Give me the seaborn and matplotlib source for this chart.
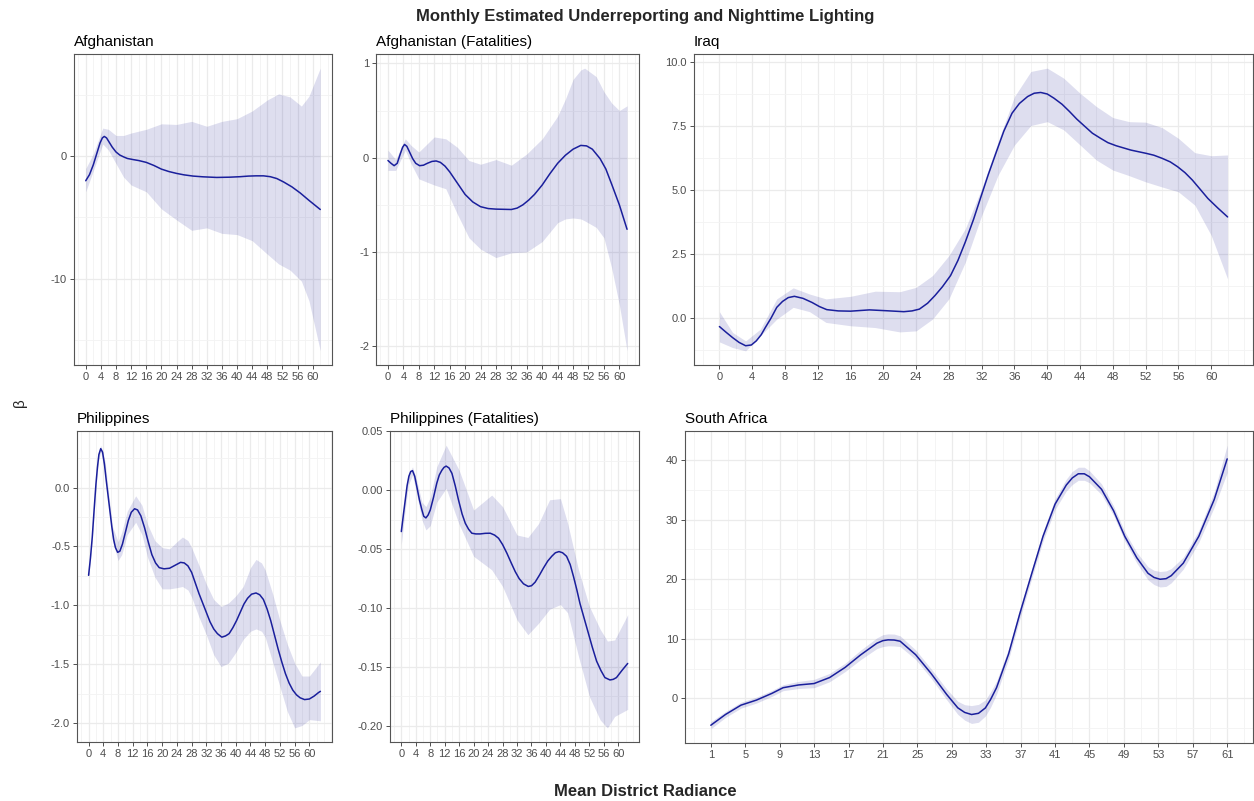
import matplotlib
matplotlib.use('Agg')
import matplotlib.pyplot as plt
from matplotlib.ticker import AutoMinorLocator, FormatStrFormatter
import seaborn as sns

# ---- data ----
afg_x = [0, 1, 2, 3, 3.8, 4.4, 4.9, 5.5, 6.2, 7, 8, 9, 10, 11, 12.5, 14, 16, 18, 20, 22, 24, 26, 28.4, 31, 34.6,
         38, 40.8, 43, 45, 47, 48.8, 50.5, 52.3, 54.5, 56.7, 59, 62]
afg_y = [-2.0, -1.5, -0.7, 0.3, 1.1, 1.5, 1.62, 1.5, 1.15, 0.75, 0.35, 0.1, -0.05, -0.18, -0.27, -0.35, -0.5, -0.75,
         -1.05, -1.25, -1.4, -1.52, -1.62, -1.68, -1.73, -1.71, -1.67, -1.62, -1.6, -1.6, -1.67, -1.82, -2.1, -2.5,
         -3.0, -3.6, -4.35]
afg_bx = [0, 2, 4.5, 6, 8, 10, 12, 16, 20, 24, 28, 32, 36, 40, 44, 48, 51, 54, 57, 59, 62]
afg_hi = [-1.0, 0.2, 2.3, 2.2, 1.7, 1.7, 1.9, 2.2, 2.65, 2.6, 2.85, 2.45, 2.85, 3.07, 3.7, 4.6, 5.1, 4.85, 4.1, 4.9, 7.2]
afg_lo = [-2.9, -1.2, 1.0, 0.5, -0.6, -1.7, -2.35, -2.9, -4.3, -5.2, -6.05, -5.85, -6.3, -6.4, -6.9, -8.0, -8.8, -9.3,
          -10.2, -11.8, -15.9]

afgf_x = [0, 0.8, 1.6, 2.4, 3.2, 3.8, 4.3, 4.9, 5.6, 6.4, 7.2, 8.2, 9.2, 10.2, 11.4, 12.5, 13.6, 14.8, 16, 18, 20,
          22, 24, 26, 28, 30, 32, 33.5, 35, 36.5, 38, 40, 42, 44, 46, 48, 50, 51.5, 53, 55, 56.5, 58, 60, 62]
afgf_y = [-0.03, -0.06, -0.085, -0.06, 0.04, 0.11, 0.14, 0.12, 0.06, -0.01, -0.06, -0.085, -0.08, -0.06, -0.04,
          -0.035, -0.05, -0.09, -0.15, -0.27, -0.39, -0.47, -0.52, -0.54, -0.546, -0.548, -0.55, -0.535, -0.50,
          -0.45, -0.39, -0.29, -0.17, -0.06, 0.025, 0.09, 0.13, 0.125, 0.09, -0.01, -0.12, -0.28, -0.5, -0.76]
afgf_bx = [0, 2, 4.5, 6, 8, 12, 15, 18, 21, 24, 28, 32, 36, 40, 44, 46, 48, 50, 51, 54, 56, 58, 60, 62]
afgf_hi = [0.08, -0.02, 0.2, 0.13, 0.06, 0.22, 0.2, 0.11, -0.03, -0.07, -0.02, -0.08, 0.04, 0.2, 0.44, 0.62, 0.83,
           0.93, 0.95, 0.86, 0.7, 0.58, 0.5, 0.55]
afgf_lo = [-0.135, -0.135, 0.08, -0.065, -0.225, -0.29, -0.33, -0.6, -0.85, -0.97, -1.06, -1.01, -1.0, -0.89, -0.69,
           -0.65, -0.64, -0.65, -0.67, -0.74, -0.85, -1.17, -1.56, -2.05]

irq_x = [0, 0.8, 1.6, 2.4, 3.2, 3.9, 4.5, 5.1, 5.6, 6.3, 7, 7.7, 8.4, 9.15, 10.2, 11.3, 12.2, 13.1, 14.5, 16, 18.3,
         20.2, 22.5, 23.5, 24.4, 25.4, 26.3, 27.2, 28.2, 29.1, 30, 31, 31.9, 32.8, 33.8, 34.7, 35.7, 36.6, 37.6, 38.4,
         39.2, 40, 40.8, 41.8, 42.7, 43.6, 44.6, 45.5, 46.5, 47.4, 48.4, 50.2, 52.1, 53, 54, 55, 55.9, 56.8, 57.7,
         58.6, 59.6, 60.8, 62]
irq_y = [-0.33, -0.55, -0.76, -0.95, -1.08, -1.05, -0.89, -0.65, -0.37, 0.0, 0.42, 0.65, 0.8, 0.85, 0.77, 0.61, 0.45,
         0.33, 0.28, 0.27, 0.32, 0.29, 0.25, 0.28, 0.35, 0.58, 0.88, 1.22, 1.66, 2.25, 2.97, 3.85, 4.73, 5.6, 6.5,
         7.3, 8.0, 8.38, 8.65, 8.78, 8.81, 8.75, 8.59, 8.35, 8.07, 7.77, 7.48, 7.22, 7.02, 6.85, 6.73, 6.56, 6.43,
         6.36, 6.24, 6.1, 5.91, 5.68, 5.39, 5.05, 4.67, 4.3, 3.95]
irq_bx = [0, 1.6, 3.2, 5, 7, 9, 11, 13, 16, 19, 22, 24, 26, 28, 30, 32, 34, 36, 38, 40, 42, 44, 46, 48, 50, 52, 54,
          56, 58, 60, 62]
irq_hi = [0.25, -0.56, -0.89, -0.43, 0.75, 1.18, 0.94, 0.75, 0.85, 1.05, 1.03, 1.2, 1.66, 2.44, 3.49, 5.06, 6.89,
          8.65, 9.63, 9.76, 9.37, 8.78, 8.26, 7.83, 7.67, 7.65, 7.44, 7.02, 6.46, 6.34, 6.37]
irq_lo = [-0.93, -1.15, -1.28, -0.69, -0.04, 0.42, 0.25, -0.17, -0.3, -0.37, -0.54, -0.5, -0.04, 0.75, 2.18, 4.01,
          5.58, 6.76, 7.52, 7.67, 7.35, 6.76, 6.17, 5.78, 5.56, 5.32, 5.12, 4.93, 4.41, 3.23, 1.53]

phl_x = [0, 0.5, 1, 1.5, 2, 2.4, 2.8, 3.3, 3.8, 4.3, 4.8, 5.3, 5.8, 6.3, 6.8, 7.3, 7.9, 8.5, 9.2, 10, 10.8, 11.6,
         12.5, 13.3, 14.2, 15.2, 16.2, 17.2, 18.2, 19.2, 20.5, 22, 23.5, 25, 26, 27, 28, 29, 30, 31, 32, 33, 34, 35,
         36.2, 37.2, 38.2, 39.2, 40.2, 41.2, 42.2, 43.2, 44.3, 45.5, 46.5, 47.5, 48.5, 49.5, 50.5, 51.5, 52.5, 53.5,
         54.5, 55.5, 56.5, 57.5, 58.7, 60, 61.3, 62.5, 63]
phl_y = [-0.745, -0.6, -0.42, -0.19, 0.03, 0.17, 0.28, 0.33, 0.3, 0.2, 0.06, -0.07, -0.2, -0.33, -0.44, -0.51, -0.55,
         -0.54, -0.48, -0.38, -0.28, -0.21, -0.18, -0.19, -0.24, -0.34, -0.46, -0.57, -0.64, -0.68, -0.69, -0.685,
         -0.66, -0.635, -0.64, -0.665, -0.72, -0.81, -0.9, -0.98, -1.06, -1.14, -1.2, -1.24, -1.27, -1.26, -1.24,
         -1.19, -1.13, -1.06, -0.99, -0.94, -0.905, -0.895, -0.91, -0.95, -1.03, -1.13, -1.25, -1.37, -1.48, -1.58,
         -1.66, -1.72, -1.76, -1.785, -1.8, -1.795, -1.77, -1.74, -1.73]
phl_bx = [0, 1, 2, 2.7, 3.3, 4.5, 5.5, 6.5, 8, 9, 10.5, 12.8, 14.5, 16, 18, 20, 22, 24, 25.5, 27, 28, 30, 32, 34, 36,
          38, 40, 42, 44, 45.5, 47, 48, 50, 52, 54, 56, 58, 60, 63]
phl_hi = [-0.72, -0.39, 0.07, 0.3, 0.36, 0.22, -0.06, -0.33, -0.46, -0.38, -0.2, -0.07, -0.15, -0.31, -0.45, -0.51,
          -0.52, -0.46, -0.42, -0.45, -0.51, -0.66, -0.82, -0.95, -1.01, -0.98, -0.92, -0.84, -0.68, -0.61, -0.64,
          -0.7, -0.9, -1.13, -1.33, -1.49, -1.6, -1.6, -1.48]
phl_lo = [-0.77, -0.45, -0.01, 0.23, 0.3, 0.12, -0.16, -0.45, -0.62, -0.57, -0.4, -0.295, -0.4, -0.59, -0.76, -0.86,
          -0.86, -0.85, -0.84, -0.87, -0.93, -1.1, -1.25, -1.42, -1.52, -1.49, -1.4, -1.29, -1.22, -1.2, -1.22,
          -1.27, -1.48, -1.69, -1.9, -2.04, -2.02, -1.97, -1.98]

phlf_x = [0, 0.6, 1.1, 1.6, 2.1, 2.6, 3.1, 3.7, 4.3, 5, 5.7, 6.2, 6.8, 7.4, 8, 8.9, 9.8, 10.5, 11.2, 11.8, 12.4,
          13.2, 14, 14.9, 15.8, 16.8, 17.7, 18.6, 19.5, 20.6, 21.8, 23.2, 24.6, 25.8, 26.9, 28, 29.2, 30.3, 31.5,
          32.6, 33.8, 35.1, 36, 37, 38.2, 39.3, 40.5, 41.6, 42.6, 43.6, 44.6, 45.7, 46.7, 47.6, 48.5, 49.4, 50.5,
          51.7, 52.8, 54, 55.2, 56.3, 57.7, 58.6, 59.5, 61, 62.6]
phlf_y = [-0.035, -0.02, -0.008, 0.004, 0.012, 0.016, 0.0167, 0.012, 0.003, -0.008, -0.0167, -0.022, -0.0234,
          -0.021, -0.0167, -0.006, 0.006, 0.013, 0.017, 0.0195, 0.0206, 0.019, 0.0144, 0.004, -0.008, -0.02, -0.028,
          -0.033, -0.0364, -0.037, -0.037, -0.0365, -0.0364, -0.038, -0.0407, -0.046, -0.0534, -0.061, -0.069,
          -0.075, -0.0794, -0.0816, -0.081, -0.078, -0.072, -0.066, -0.06, -0.056, -0.053, -0.052, -0.053, -0.056,
          -0.063, -0.073, -0.084, -0.096, -0.108, -0.121, -0.133, -0.145, -0.153, -0.159, -0.161, -0.1605, -0.159,
          -0.153, -0.147]
phlf_bx = [0, 1.1, 2, 3.1, 4.3, 5.7, 6.8, 8, 9.8, 12.4, 16, 20, 25, 28, 32, 35, 38, 41, 44, 46, 49, 52, 55, 57, 59,
           62.6]
phlf_hi = [-0.030, -0.002, 0.014, 0.02, 0.008, -0.010, -0.0138, -0.006, 0.02, 0.0384, 0.017, -0.0167, -0.004,
           -0.0138, -0.0379, -0.04, -0.028, -0.008, -0.007, -0.028, -0.0675, -0.0986, -0.118, -0.128, -0.127, -0.1056]
phlf_lo = [-0.046, -0.016, 0.005, 0.013, -0.004, -0.025, -0.0336, -0.03, -0.01, 0.0017, -0.029, -0.056, -0.0675,
           -0.0816, -0.11, -0.1226, -0.1127, -0.101, -0.097, -0.104, -0.141, -0.175, -0.195, -0.2017, -0.192, -0.186]

zaf_x = [1, 2.7, 4.5, 6.3, 8.1, 9.4, 11.2, 13, 14.8, 16.6, 18.4, 20.3, 21, 21.6, 22.3, 23, 24.8, 26.6, 28.4, 29.7,
         30.5, 31.3, 32.1, 32.9, 33.5, 34.2, 35.6, 36.9, 38.3, 39.6, 41, 42.3, 43, 43.7, 44.4, 45, 46.4, 47.8, 49.1,
         50.5, 51.8, 52.5, 53.2, 53.9, 54.5, 55.9, 57.7, 59.5, 61]
zaf_y = [-4.5, -2.7, -1.13, -0.28, 0.85, 1.8, 2.26, 2.5, 3.5, 5.2, 7.3, 9.27, 9.7, 9.83, 9.8, 9.6, 7.34, 4.18, 0.68,
         -1.58, -2.35, -2.7, -2.5, -1.6, -0.2, 1.8, 7.46, 14.2, 21, 27.2, 32.6, 35.8, 37.0, 37.7, 37.7, 37.2, 35.1,
         31.5, 27.2, 23.6, 21, 20.3, 20, 20.1, 20.6, 22.7, 27.2, 33.4, 40.2]
zaf_hi = [-3.9, -2.2, -0.63, 0.22, 1.35, 2.3, 2.86, 3.2, 4.2, 5.9, 8.1, 10.17, 10.7, 10.83, 10.8, 10.5, 8.14, 4.98,
          1.58, -0.48, -1.05, -1.2, -1.0, -0.25, 1.1, 2.9, 8.36, 15.1, 21.8, 28.0, 33.5, 36.8, 38.1, 38.8, 38.8, 38.2,
          36.0, 32.3, 28.0, 24.5, 22.1, 21.5, 21.3, 21.4, 21.8, 23.7, 28.2, 34.7, 42.5]
zaf_lo = [-5.1, -3.2, -1.63, -0.78, 0.35, 1.3, 1.66, 1.8, 2.8, 4.5, 6.5, 8.37, 8.7, 8.83, 8.8, 8.7, 6.54, 3.38,
          -0.22, -2.68, -3.65, -4.2, -4.0, -2.95, -1.5, 0.7, 6.56, 13.3, 20.2, 26.4, 31.7, 34.8, 35.9, 36.6, 36.6,
          36.2, 34.2, 30.7, 26.4, 22.7, 19.9, 19.1, 18.7, 18.8, 19.4, 21.7, 26.2, 32.1, 37.9]

xt_0 = list(range(0, 61, 4))
xt_1 = list(range(1, 62, 4))
afg_yt = [-10, 0]
afgf_yt = [-2, -1, 0, 1]
irq_yt = [0, 2.5, 5, 7.5, 10]
phl_yt = [-2.0, -1.5, -1.0, -0.5, 0.0]
phlf_yt = [-0.20, -0.15, -0.10, -0.05, 0.00, 0.05]
zaf_yt = [0, 10, 20, 30, 40]

sns.set_theme(style="white")
plt.rcParams['font.family'] = ['Liberation Sans', 'DejaVu Sans']
plt.rcParams['axes.unicode_minus'] = False

W, H = 1254, 801
fig = plt.figure(figsize=(W / 100, H / 100), dpi=100)
fig.patch.set_facecolor('white')

LINE = '#1A1F9C'
FILL = '#00008B'


def panel(box, title, x, y, bx, hi, lo, xt, yt, fmt):
    l, t, r, b = box
    ax = fig.add_axes([l / W, 1 - b / H, (r - l) / W, (b - t) / H])
    ax.fill_between(bx, lo, hi, color=FILL, alpha=0.13, linewidth=0, zorder=2)
    sns.lineplot(x=x, y=y, ax=ax, color=LINE, linewidth=1.1, zorder=3)
    xs = list(x) + list(bx)
    ys = list(y) + list(hi) + list(lo)
    px = 0.05 * (max(xs) - min(xs))
    py = 0.05 * (max(ys) - min(ys))
    ax.set_xlim(min(xs) - px, max(xs) + px)
    ax.set_ylim(min(ys) - py, max(ys) + py)
    ax.set_xticks(xt)
    ax.set_yticks(yt)
    ax.yaxis.set_major_formatter(FormatStrFormatter(fmt))
    ax.xaxis.set_minor_locator(AutoMinorLocator(2))
    ax.yaxis.set_minor_locator(AutoMinorLocator(2))
    ax.grid(True, which='major', color='#EBEBEB', linewidth=0.9, zorder=0)
    ax.grid(True, which='minor', color='#F3F3F3', linewidth=0.6, zorder=0)
    ax.set_axisbelow(True)
    ax.tick_params(which='major', direction='out', length=3, width=0.6, color='#333333',
                   labelsize=8, labelcolor='#4D4D4D', pad=2, bottom=True, left=True)
    ax.tick_params(which='minor', length=0)
    for s in ax.spines.values():
        s.set_color('#555555')
        s.set_linewidth(0.8)
    ax.set_xlabel('')
    ax.set_ylabel('')
    ax.set_title(title, loc='left', fontsize=11, color='black', pad=6)
    return ax


panel((74, 54, 332, 365), 'Afghanistan', afg_x, afg_y, afg_bx, afg_hi, afg_lo, xt_0, afg_yt, '%g')
panel((376, 54, 639, 365), 'Afghanistan (Fatalities)', afgf_x, afgf_y, afgf_bx, afgf_hi, afgf_lo, xt_0, afgf_yt, '%g')
panel((694, 54, 1253, 365), 'Iraq', irq_x, irq_y, irq_bx, irq_hi, irq_lo, xt_0, irq_yt, '%.1f')
panel((77, 431, 332, 742), 'Philippines', phl_x, phl_y, phl_bx, phl_hi, phl_lo, xt_0, phl_yt, '%.1f')
panel((390, 431, 639, 742), 'Philippines (Fatalities)', phlf_x, phlf_y, phlf_bx, phlf_hi, phlf_lo, xt_0, phlf_yt, '%.2f')
panel((685, 431, 1253, 743), 'South Africa', zaf_x, zaf_y, zaf_x, zaf_hi, zaf_lo, xt_1, zaf_yt, '%g')

fig.text(645 / W, 1 - 17 / H, 'Monthly Estimated Underreporting and Nighttime Lighting',
         ha='center', va='center', fontsize=12, fontweight='bold')
fig.text(645 / W, 1 - 791 / H, 'Mean District Radiance', ha='center', va='center', fontsize=12, fontweight='bold')
fig.text(20 / W, 1 - 403 / H, 'β', ha='center', va='center', fontsize=11, rotation=90)

fig.savefig('out.png', dpi=100, facecolor='white')
